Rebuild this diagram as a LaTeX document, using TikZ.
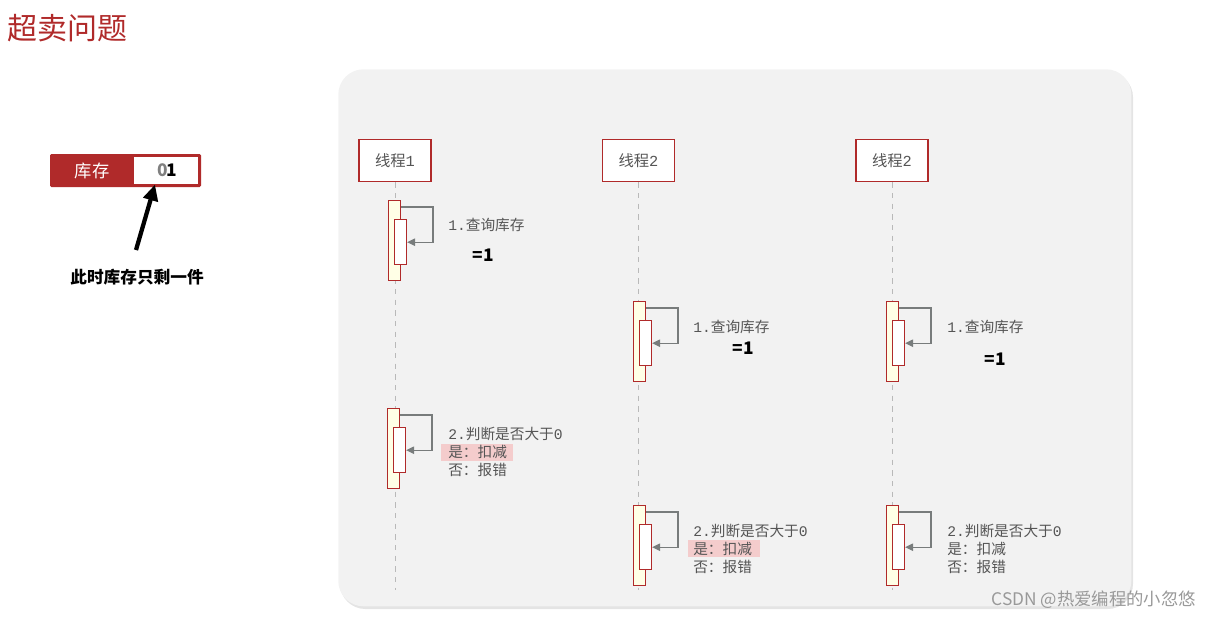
\documentclass[tikz,border=0pt]{standalone}
\usepackage{fontspec}
\setmainfont{Noto Sans CJK SC}
\newfontfamily\mono{Liberation Mono}
\usetikzlibrary{arrows.meta,shadows}
\definecolor{myred}{RGB}{176,42,42}
\definecolor{panelbg}{RGB}{242,242,242}
\definecolor{actyel}{RGB}{255,255,230}
\definecolor{msggray}{RGB}{120,124,124}
\definecolor{txtgray}{RGB}{85,85,85}
\definecolor{hl}{RGB}{244,204,204}
\tikzset{
  headbox/.style={draw=myred, fill=white, line width=0.8pt, minimum width=54pt, minimum height=32pt, inner sep=0pt, font=\fontsize{11.5}{13}\selectfont, text=txtgray},
  outerbox/.style={draw=myred, fill=actyel, line width=0.8pt, minimum width=9pt, minimum height=60pt, inner sep=0pt, anchor=north west},
  innerbox/.style={draw=myred, fill=white, line width=0.8pt, minimum width=9pt, minimum height=34pt, inner sep=0pt, anchor=north west},
  msg/.style={draw=msggray, line width=1pt, -{Triangle[length=6pt,width=5.5pt]}},
  life/.style={draw=gray!55, dashed, dash pattern=on 4pt off 4pt, line width=0.6pt},
  steptext/.style={anchor=north west, inner sep=0pt, font=\fontsize{11}{13.6}\selectfont, text=txtgray, align=left},
  eqone/.style={inner sep=0pt, font=\fontsize{13}{15}\selectfont\bfseries, text=black},
}
\newcommand\actpair[3]{%
  \node[outerbox] (#1o) at (#2,#3) {};
  \node[innerbox] (#1i) at (#2+6,#3+19) {};
  \draw[msg] ([yshift=-5.25pt]#1o.north east) -- ++(32,0) |- (#1i.east);
}
\begin{document}
\begin{tikzpicture}[x=0.75pt,y=-0.75pt]
\useasboundingbox (0,0) rectangle (1212,621);
% title
\node[anchor=west, inner sep=0pt, text=myred, font=\fontsize{22.5}{26}\selectfont] (title) at (7,28) {超卖问题};
% stock box
\fill[myred, rounded corners=1pt] (50,154) rectangle (201,187);
\node[fill=white, minimum width=48pt, minimum height=20.25pt, inner sep=0pt, anchor=north west] (stockval) at (134,157) {};
\node[text=white, font=\fontsize{13}{15}\selectfont, inner sep=0pt] (stocklbl) at (92,170.5) {库存};
\node[text=gray, font=\fontsize{13}{15}\selectfont\bfseries, inner sep=0pt] (zero) at (163,170.5) {0};
\node[text=black, font=\fontsize{13}{15}\selectfont\bfseries, inner sep=0pt] (one) at (172,170.5) {1};
\node[font=\fontsize{12.5}{15}\selectfont\bfseries, inner sep=0pt] (note) at (137,277) {此时库存只剩一件};
\coordinate (arrstart) at (136,250);
\draw[line width=3.2pt, -{Triangle[length=12pt,width=11pt]}] (arrstart) -- (stockval.south west -| 155,194);
% panel
\fill[black!30, opacity=0.35, rounded corners=19pt] (340,72) rectangle (1133,609);
\node[fill=panelbg, rounded corners=19pt, minimum width=594.75pt, minimum height=402.75pt, inner sep=0pt, anchor=north west] (panel) at (338,69) {};
% heads
\node[headbox] (t1) at (395,160.5) {线程{\mono 1}};
\node[headbox] (t2) at (638.5,160.5) {线程{\mono 2}};
\node[headbox] (t3) at (892,160.5) {线程{\mono 2}};
\coordinate (e1) at (395,590);
\coordinate (e2) at (638.5,590);
\coordinate (e3) at (892,590);
\draw[life] (t1.south) -- (e1);
\draw[life] (t2.south) -- (e2);
\draw[life] (t3.south) -- (e3);
% activations
\actpair{a}{388}{200}
\actpair{b}{387}{408}
\actpair{c}{633}{301}
\actpair{d}{633}{505}
\actpair{e}{886}{301}
\actpair{f}{886}{505}
% texts thread1
\node[steptext] (s1) at (448,218) {{\mono 1.}查询库存};
\node[eqone] (v1) at (483,255) {=1};
\fill[hl] (441,444) rectangle (513,461);
\node[steptext] (s2) at (448,427) {{\mono 2.}判断是否大于{\mono 0}\\是：扣减\\否：报错};
% thread2
\node[steptext] (s3) at (693,320) {{\mono 1.}查询库存};
\node[eqone] (v3) at (743,348) {=1};
\fill[hl] (688,540) rectangle (760,557);
\node[steptext] (s4) at (693,524) {{\mono 2.}判断是否大于{\mono 0}\\是：扣减\\否：报错};
% thread3
\node[steptext] (s5) at (947,320) {{\mono 1.}查询库存};
\node[eqone] (v5) at (995,359) {=1};
\node[steptext] (s6) at (947,524) {{\mono 2.}判断是否大于{\mono 0}\\是：扣减\\否：报错};
% watermark
\node[anchor=east, inner sep=0pt, text=gray!80, font=\fontsize{13}{15}\selectfont] (wm) at (1196,600) {CSDN @热爱编程的小忽悠};
\end{tikzpicture}
\end{document}
